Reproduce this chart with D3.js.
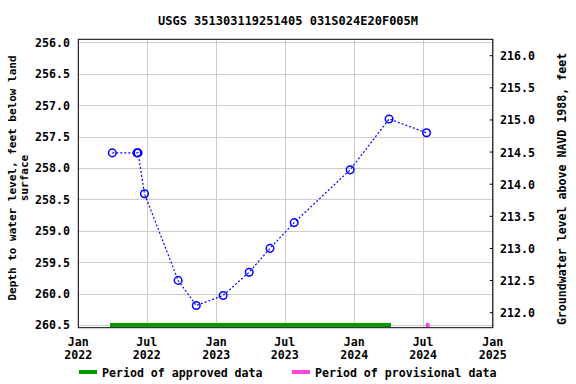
<!DOCTYPE html>
<html>
<head>
<meta charset="utf-8" />
<title>USGS 351303119251405 031S024E20F005M</title>
<style>
body { margin: 0; background: #fff; }
text { font-family: "DejaVu Sans Mono", monospace; font-weight: bold; font-size: 11.6px; fill: #000; }
</style>
</head>
<body>
<script src="https://d3js.org/d3.v7.min.js"></script>
<script>
var width = 576,
    height = 384;

// measurements: date, depth below land surface (ft)
var dates = ["2022-04-01", "2022-06-05", "2022-06-08", "2022-06-25", "2022-09-22", "2022-11-09",
             "2023-01-19", "2023-03-29", "2023-05-23", "2023-07-26", "2023-12-21", "2024-04-02", "2024-07-10"];
var depths = [257.76, 257.76, 257.76, 258.41, 259.79, 260.19,
              260.03, 259.66, 259.28, 258.87, 258.03, 257.22, 257.44];

// data-status periods
var approved = ["2022-03-26", "2024-04-07"];
var provisional = ["2024-07-08", "2024-07-18"];

var leftTicks = [256.0, 256.5, 257.0, 257.5, 258.0, 258.5, 259.0, 259.5, 260.0, 260.5];
var rightTicks = [216.0, 215.5, 215.0, 214.5, 214.0, 213.5, 213.0, 212.5, 212.0];
var xTicks = ["2022-01-01", "2022-07-01", "2023-01-01", "2023-07-01", "2024-01-01", "2024-07-01", "2025-01-01"];

var parse = d3.timeParse("%Y-%m-%d");

var pLeft = 78.3, pRight = 492.7, pTop = 39.3, pBottom = 327.7;

var x = d3.scaleTime()
    .domain([parse("2022-01-01"), parse("2025-01-01")])
    .range([pLeft, pRight]);

var y = d3.scaleLinear()
    .domain([255.952, 260.543])
    .range([pTop, pBottom]);

var y2 = d3.scaleLinear()
    .domain([216.255, 211.767])
    .range([pTop, pBottom]);

var svg = d3.select("body").append("svg")
    .attr("width", width)
    .attr("height", height);

// title
svg.append("text")
    .attr("x", 288).attr("y", 25)
    .attr("text-anchor", "middle")
    .style("font-size", "12px")
    .text("USGS 351303119251405 031S024E20F005M");

// grid
var grid = svg.append("g").attr("stroke", "#cccccc").attr("stroke-width", 1);
grid.selectAll(".gx")
    .data(xTicks.map(parse))
    .enter().append("line")
    .attr("x1", d => Math.round(x(d)) + 0.5).attr("x2", d => Math.round(x(d)) + 0.5)
    .attr("y1", pTop).attr("y2", pBottom);
grid.selectAll(".gy")
    .data(leftTicks)
    .enter().append("line")
    .attr("x1", pLeft).attr("x2", pRight)
    .attr("y1", d => Math.round(y(d)) + 0.5).attr("y2", d => Math.round(y(d)) + 0.5);

// period bars
svg.append("rect")
    .attr("x", x(parse(approved[0])))
    .attr("width", x(parse(approved[1])) - x(parse(approved[0])))
    .attr("y", y(260.5) - 2).attr("height", 4)
    .attr("fill", "#009900");
svg.append("rect")
    .attr("x", x(parse(provisional[0])))
    .attr("width", x(parse(provisional[1])) - x(parse(provisional[0])))
    .attr("y", y(260.5) - 2).attr("height", 4)
    .attr("fill", "#ff44dd");

// series
var pts = dates.map((d, i) => ({date: parse(d), depth: depths[i]}));

var line = d3.line()
    .x(d => x(d.date))
    .y(d => y(d.depth));

svg.append("path")
    .datum(pts)
    .attr("d", line)
    .attr("fill", "none")
    .attr("stroke", "#0000ff")
    .attr("stroke-width", 1.2)
    .attr("stroke-dasharray", "2,2");

svg.selectAll(".pt")
    .data(pts)
    .enter().append("circle")
    .attr("cx", d => x(d.date))
    .attr("cy", d => y(d.depth))
    .attr("r", 3.8)
    .attr("fill", "none")
    .attr("stroke", "#0000ff")
    .attr("stroke-width", 1.5);

// frame
svg.append("rect")
    .attr("x", pLeft).attr("y", pTop)
    .attr("width", pRight - pLeft).attr("height", pBottom - pTop)
    .attr("fill", "none")
    .attr("stroke", "#000")
    .attr("stroke-width", 1);

// left axis labels
svg.selectAll(".ly")
    .data(leftTicks)
    .enter().append("text")
    .attr("x", 70).attr("y", d => y(d) + 4.5)
    .attr("text-anchor", "end")
    .text(d => d.toFixed(1));

// right axis ticks + labels
svg.selectAll(".rt")
    .data(rightTicks)
    .enter().append("line")
    .attr("x1", pRight - 3).attr("x2", pRight)
    .attr("y1", d => y2(d)).attr("y2", d => y2(d))
    .attr("stroke", "#000");
svg.selectAll(".ry")
    .data(rightTicks)
    .enter().append("text")
    .attr("x", 500).attr("y", d => y2(d) + 4.5)
    .text(d => d.toFixed(1));

// x labels
var xl = svg.selectAll(".xl")
    .data(xTicks.map(parse))
    .enter().append("text")
    .attr("text-anchor", "middle")
    .attr("x", d => x(d));
xl.append("tspan").attr("x", d => x(d)).attr("y", 346).text(d => d3.timeFormat("%b")(d));
xl.append("tspan").attr("x", d => x(d)).attr("y", 359).text(d => d3.timeFormat("%Y")(d));

// axis titles
svg.append("text")
    .attr("transform", "translate(16,178) rotate(-90)")
    .attr("text-anchor", "middle")
    .style("font-size", "11px")
    .text("Depth to water level, feet below land");
svg.append("text")
    .attr("transform", "translate(28,178) rotate(-90)")
    .attr("text-anchor", "middle")
    .style("font-size", "11px")
    .text("surface");
svg.append("text")
    .attr("transform", "translate(566,189) rotate(-90)")
    .attr("text-anchor", "middle")
    .text("Groundwater level above NAVD 1988, feet");

// legend
var legend = [{label: "Period of approved data", color: "#009900", x: 79},
              {label: "Period of provisional data", color: "#ff44dd", x: 292}];
var lg = svg.selectAll(".lg").data(legend).enter().append("g");
lg.append("rect")
    .attr("x", d => d.x).attr("y", 370).attr("width", 18).attr("height", 4)
    .attr("fill", d => d.color);
lg.append("text")
    .attr("x", d => d.x + 23).attr("y", 376.5)
    .text(d => d.label);
</script>
</body>
</html>
